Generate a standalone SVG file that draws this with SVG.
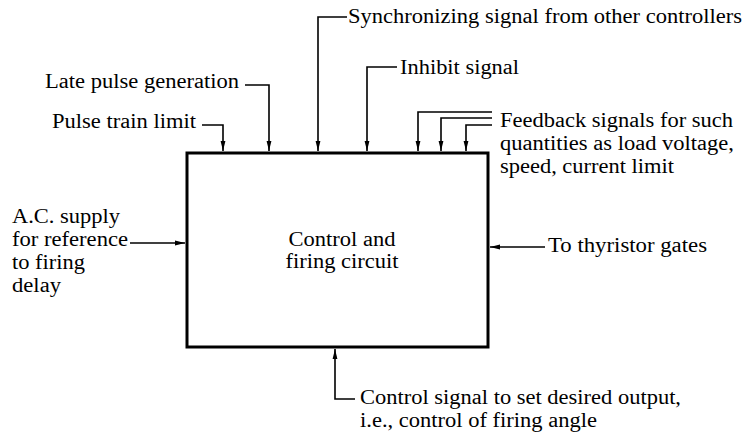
<svg xmlns="http://www.w3.org/2000/svg" width="748" height="434" viewBox="0 0 748 434">
<style>
.t{font-family:"Liberation Serif","Times New Roman",serif;font-size:20px;fill:#000}
.c{fill:none;stroke:#000;stroke-width:1.6;marker-end:url(#ah)}
.box{fill:#fff;stroke:#000;stroke-width:3}
</style>
<defs>
<marker id="ah" markerUnits="userSpaceOnUse" markerWidth="10" markerHeight="6" refX="10" refY="3" orient="auto">
<path d="M0,0.6 L10,3 L0,5.4 z" fill="#000"/>
</marker>
</defs>
<rect width="748" height="434" fill="#fff"/>
<g id="connectors">
<path class="c" d="M202,125 H223 V151"/>
<path class="c" d="M245,85 H269 V151"/>
<path class="c" d="M347,17 H318 V151"/>
<path class="c" d="M397,67 H367 V151"/>
<path class="c" d="M492,112 H418 V151"/>
<path class="c" d="M492,118 H441 V151"/>
<path class="c" d="M492,125 H466 V151"/>
<path class="c" d="M130,243 H185"/>
<path class="c" d="M545,247 H490"/>
<path class="c" d="M355,399 H335 V349"/>
</g>
<g id="control-firing-circuit">
<rect class="box" x="187" y="153" width="301" height="194"/>
<text class="t" x="342" y="246" text-anchor="middle" textLength="107" lengthAdjust="spacingAndGlyphs">Control and</text>
<text class="t" x="342" y="268" text-anchor="middle" textLength="113" lengthAdjust="spacingAndGlyphs">firing circuit</text>
</g>
<g id="label-sync">
<text class="t" x="348" y="23" textLength="394" lengthAdjust="spacingAndGlyphs">Synchronizing signal from other controllers</text>
</g>
<g id="label-late-pulse">
<text class="t" x="45" y="88" textLength="194" lengthAdjust="spacingAndGlyphs">Late pulse generation</text>
</g>
<g id="label-inhibit">
<text class="t" x="400" y="74" textLength="119" lengthAdjust="spacingAndGlyphs">Inhibit signal</text>
</g>
<g id="label-pulse-train">
<text class="t" x="52" y="128" textLength="144" lengthAdjust="spacingAndGlyphs">Pulse train limit</text>
</g>
<g id="label-feedback">
<text class="t" x="500" y="127" textLength="233" lengthAdjust="spacingAndGlyphs">Feedback signals for such</text>
<text class="t" x="500" y="150" textLength="234" lengthAdjust="spacingAndGlyphs">quantities as load voltage,</text>
<text class="t" x="500" y="173" textLength="174" lengthAdjust="spacingAndGlyphs">speed, current limit</text>
</g>
<g id="label-ac-supply">
<text class="t" x="12" y="223" textLength="108" lengthAdjust="spacingAndGlyphs">A.C. supply</text>
<text class="t" x="12" y="246" textLength="116" lengthAdjust="spacingAndGlyphs">for reference</text>
<text class="t" x="12" y="269" textLength="73" lengthAdjust="spacingAndGlyphs">to firing</text>
<text class="t" x="12" y="292" textLength="49" lengthAdjust="spacingAndGlyphs">delay</text>
</g>
<g id="label-thyristor">
<text class="t" x="548" y="252" textLength="159" lengthAdjust="spacingAndGlyphs">To thyristor gates</text>
</g>
<g id="label-control-signal">
<text class="t" x="360" y="404" textLength="321" lengthAdjust="spacingAndGlyphs">Control signal to set desired output,</text>
<text class="t" x="360" y="427" textLength="237" lengthAdjust="spacingAndGlyphs">i.e., control of firing angle</text>
</g>
</svg>
